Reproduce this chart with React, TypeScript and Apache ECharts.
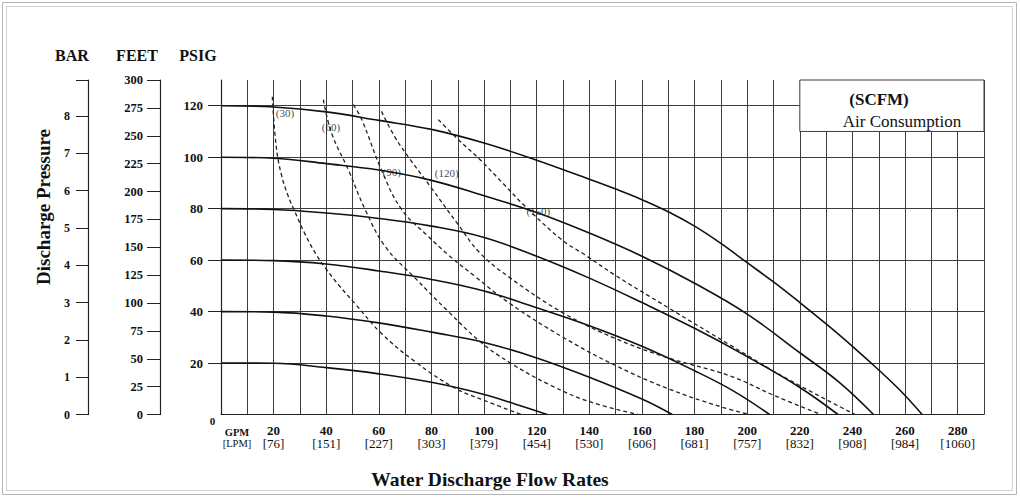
import React, { useEffect, useRef } from 'react';
import * as echarts from 'echarts';

const SERIF = '"Liberation Serif", "DejaVu Serif", "Times New Roman", serif';

// Axis ranges and tick labels
const GPM_MAX = 290;
const PSI_MAX = 130;
const FEET_MAX = 300;
const BAR_MAX = 130 / 14.5038;
const GPM_TICKS = [20, 40, 60, 80, 100, 120, 140, 160, 180, 200, 220, 240, 260, 280];
const LPM_TICKS = [76, 151, 227, 303, 379, 454, 530, 606, 681, 757, 832, 908, 984, 1060];
const PSI_TICKS = [20, 40, 60, 80, 100, 120];
const FEET_TICKS = [0, 25, 50, 75, 100, 125, 150, 175, 200, 225, 250, 275, 300];
const BAR_TICKS = [0, 1, 2, 3, 4, 5, 6, 7, 8];

// Solid curves: discharge pressure (psig) vs flow (gpm) per air inlet pressure
const SOLID_120 = [[0, 120], [20, 119.5], [40, 117.6], [60, 114.3], [80, 110.8], [100, 105.5], [120, 98.8], [140, 91.4], [150, 87.6], [160, 83.5], [170, 78.8], [180, 73.2], [190, 66.5], [200, 59], [210, 51.5], [220, 43.5], [230, 35.2], [240, 26.5], [250, 17.3], [258, 9.5], [266.5, 0]];
const SOLID_100 = [[0, 100], [20, 99.6], [40, 97.5], [60, 95], [80, 91], [100, 85], [120, 78.5], [140, 70.5], [160, 61.5], [180, 51], [200, 39], [220, 24], [235, 12.5], [248, 0]];
const SOLID_80 = [[0, 80], [20, 79.7], [40, 78.3], [60, 76.2], [80, 73.2], [100, 68.8], [120, 61.5], [140, 53], [160, 43.5], [180, 33.5], [200, 22.5], [220, 10.5], [234.5, 0]];
const SOLID_60 = [[0, 60], [20, 59.8], [40, 58.5], [60, 55.8], [80, 52.5], [100, 48], [120, 41.5], [140, 34.5], [160, 26.5], [180, 17], [195, 9], [208.5, 0]];
const SOLID_40 = [[0, 40], [20, 39.8], [40, 38.3], [60, 35.6], [80, 32], [100, 28], [120, 22], [140, 14.5], [160, 6], [171.5, 0]];
const SOLID_20 = [[0, 20], [20, 19.9], [40, 18.2], [60, 15.8], [80, 12.5], [100, 7.8], [112, 4], [124, 0]];

// Dashed curves: constant air consumption (SCFM)
const AIR_30 = [[19.5, 123.5], [21, 104], [23, 93], [25.5, 85], [28, 79], [32, 70], [36, 62.5], [40, 56.5], [45, 50], [51, 43], [61, 31.5], [73.8, 20.5], [89, 10.2], [100, 5.5], [114, 0]];
const AIR_60 = [[38.9, 122.4], [42, 109.4], [48.4, 95.1], [54.8, 79.6], [62.4, 65.3], [73.8, 53], [86.4, 40], [98.5, 28.3], [110, 20], [125, 11.5], [140, 5], [158.5, 0]];
const AIR_90 = [[50.3, 120.4], [53.5, 114.6], [61, 95], [68.7, 79.6], [78.8, 69.2], [86.4, 62], [96.6, 53.6], [110, 43], [130, 30], [150, 19], [170, 10], [190, 3], [201, 0]];
const AIR_120 = [[61, 117.8], [66, 108], [72, 99], [80, 88], [90, 74], [98.5, 62.7], [110, 53], [130, 39.5], [150, 29.5], [170, 22], [193.5, 15], [210, 7.5], [228, 0]];
const AIR_150 = [[82.6, 114.6], [90, 107], [98.5, 99], [107, 90], [115.6, 80.9], [129.5, 67.9], [138.4, 62], [150, 54], [170, 41.5], [193.5, 27], [215, 14], [241, 0]];

const SOLID_CURVES = [SOLID_120, SOLID_100, SOLID_80, SOLID_60, SOLID_40, SOLID_20];
const SOLID_NAMES = ['120 psig air', '100 psig air', '80 psig air', '60 psig air', '40 psig air', '20 psig air'];
const AIR_CURVES = [AIR_30, AIR_60, AIR_90, AIR_120, AIR_150];
const AIR_NAMES = ['(30)', '(60)', '(90)', '(120)', '(150)'];
const AIR_LABEL_POS = [[24.3, 117.2], [41.8, 111.6], [64.9, 94.1], [85.8, 93.9], [120.6, 79.2]];
const LEGEND_BOX = [[220, 110], [290, 130]];

const GRID_COLOR = '#3c3c3c';
const INK = '#111';

export default function App() {
  const ref = useRef<HTMLDivElement>(null);

  useEffect(() => {
    document.body.style.margin = '0';
    if (!ref.current) return;
    const chart = echarts.init(ref.current, null, { renderer: 'svg' });

    const solidSeries = SOLID_CURVES.map((d, i) => ({
      name: SOLID_NAMES[i],
      type: 'line',
      data: d,
      yAxisIndex: 0,
      symbol: 'none',
      smooth: 0.4,
      silent: true,
      z: 3,
      itemStyle: { color: INK },
      lineStyle: { color: INK, width: 1.6 },
      ...(i === 0
        ? {
            markArea: {
              silent: true,
              itemStyle: { color: '#fff', opacity: 1, borderColor: GRID_COLOR, borderWidth: 1 },
              data: [[{ coord: LEGEND_BOX[0] }, { coord: LEGEND_BOX[1] }]],
            },
          }
        : {}),
    }));

    const airSeries = AIR_CURVES.map((d, i) => ({
      name: AIR_NAMES[i],
      type: 'line',
      data: d,
      yAxisIndex: 0,
      symbol: 'none',
      smooth: 0.4,
      silent: true,
      z: 3,
      itemStyle: { color: '#222' },
      lineStyle: { color: '#222', width: 1.3, type: [4, 3] },
    }));

    const labelSeries = {
      type: 'scatter',
      yAxisIndex: 0,
      symbolSize: 0,
      silent: true,
      z: 5,
      itemStyle: { color: INK },
      data: AIR_LABEL_POS.map((p, i) => [p[0], p[1], AIR_NAMES[i]]),
      label: {
        show: true,
        position: 'inside',
        formatter: (p: any) => p.data[2],
        fontFamily: SERIF,
        fontSize: 11,
        color: INK,
        textBorderWidth: 0,
      },
    };

    const text = (x: number, y: number, t: string, size: number, weight: string, extra: any = {}) => ({
      type: 'text',
      x,
      y,
      z: 10,
      silent: true,
      ...extra,
      style: {
        text: t,
        fontFamily: SERIF,
        fontSize: size,
        fontWeight: weight,
        fill: INK,
        align: 'center',
        verticalAlign: 'middle',
      },
    });

    const option: any = {
      animation: false,
      backgroundColor: '#fff',
      grid: { left: 221, top: 80, right: 36, bottom: 83.5, containLabel: false, outerBoundsMode: 'none' },
      xAxis: {
        type: 'value',
        min: 0,
        max: GPM_MAX,
        interval: 10,
        axisLine: { show: true, onZero: false, lineStyle: { color: '#222', width: 1.2 } },
        axisTick: { show: false },
        splitLine: { show: true, lineStyle: { color: GRID_COLOR, width: 1 } },
        axisLabel: {
          customValues: GPM_TICKS,
          margin: 9,
          formatter: (v: number) => {
            const i = GPM_TICKS.indexOf(v);
            return `{g|${v}}\n{l|[${LPM_TICKS[i]}]}`;
          },
          rich: {
            g: { fontFamily: SERIF, fontSize: 13, fontWeight: 'bold', color: INK, lineHeight: 13 },
            l: { fontFamily: SERIF, fontSize: 13, color: INK, lineHeight: 13 },
          },
        },
      },
      yAxis: [
        {
          type: 'value',
          min: 0,
          max: PSI_MAX,
          interval: 10,
          position: 'left',
          axisLine: { show: true, onZero: false, lineStyle: { color: '#222', width: 1.2 } },
          axisTick: { show: true, customValues: PSI_TICKS, length: 13, lineStyle: { color: '#222' } },
          axisLabel: {
            customValues: PSI_TICKS,
            margin: 18,
            fontFamily: SERIF,
            fontSize: 13,
            fontWeight: 'bold',
            color: INK,
          },
          splitLine: { show: true, lineStyle: { color: GRID_COLOR, width: 1 } },
        },
        {
          type: 'value',
          min: 0,
          max: BAR_MAX,
          position: 'left',
          offset: 133,
          axisLine: { show: true, onZero: false, lineStyle: { color: '#222', width: 1.2 } },
          axisTick: { show: true, customValues: [...BAR_TICKS, BAR_MAX], length: 12, lineStyle: { color: '#222' } },
          axisLabel: {
            customValues: BAR_TICKS,
            margin: 18,
            fontFamily: SERIF,
            fontSize: 12,
            fontWeight: 'bold',
            color: INK,
          },
          splitLine: { show: false },
        },
        {
          type: 'value',
          min: 0,
          max: FEET_MAX,
          interval: 25,
          position: 'left',
          offset: 61,
          axisLine: { show: true, onZero: false, lineStyle: { color: '#222', width: 1.2 } },
          axisTick: { show: true, customValues: FEET_TICKS, length: 13, lineStyle: { color: '#222' } },
          axisLabel: {
            customValues: FEET_TICKS,
            margin: 17,
            fontFamily: SERIF,
            fontSize: 12.5,
            fontWeight: 'bold',
            color: INK,
          },
          splitLine: { show: false },
        },
      ],
      series: [...solidSeries, ...airSeries, labelSeries],
      graphic: [
        {
          type: 'rect',
          z: 0,
          silent: true,
          shape: { x: 2.5, y: 2.5, width: 1014, height: 492 },
          style: { fill: 'none', stroke: '#b5b5b5', lineWidth: 1 },
        },
        {
          type: 'rect',
          z: 0,
          silent: true,
          shape: { x: 6.5, y: 6.5, width: 1006, height: 484 },
          style: { fill: 'none', stroke: '#d0d0d0', lineWidth: 1 },
        },
        text(72, 55, 'BAR', 16, 'bold'),
        text(137, 55, 'FEET', 16, 'bold'),
        text(198, 55, 'PSIG', 16, 'bold'),
        text(43, 207, 'Discharge Pressure', 19, 'bold', { rotation: Math.PI / 2 }),
        text(212.5, 421, '0', 11, 'bold'),
        text(237, 432, 'GPM', 10.5, 'bold'),
        text(237, 443, '[LPM]', 10.5, 'normal'),
        text(490, 479, 'Water Discharge Flow Rates', 19.5, 'bold'),
        text(879, 99, '(SCFM)', 17, 'bold'),
        text(902, 121, 'Air Consumption', 17, 'normal'),
      ],
    };

    chart.setOption(option);
    return () => chart.dispose();
  }, []);

  return <div ref={ref} style={{ width: 1020, height: 498 }} />;
}
